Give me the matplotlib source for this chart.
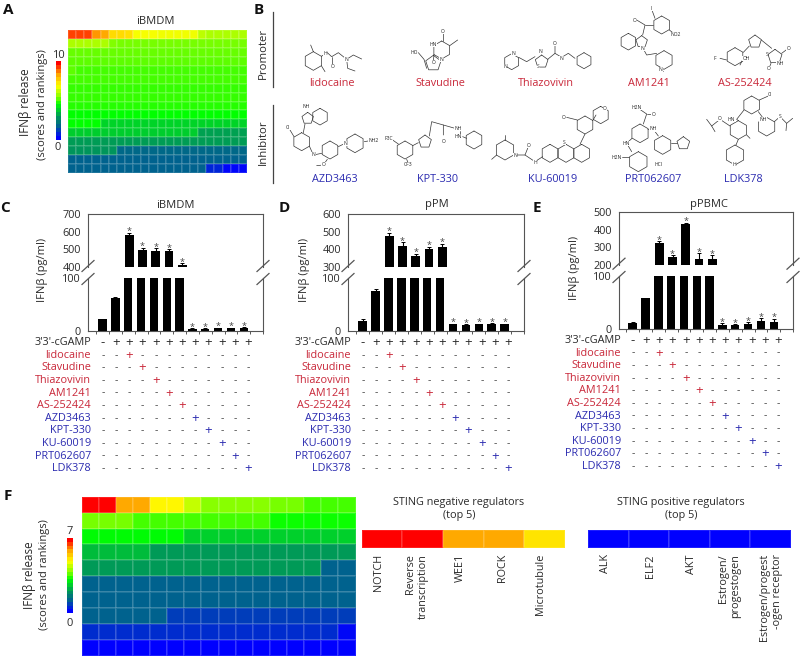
import numpy as np
import matplotlib
matplotlib.use('Agg')
from matplotlib import pyplot as plt
from matplotlib.colors import LinearSegmentedColormap, Normalize
from matplotlib.cm import ScalarMappable

plt.rcParams['font.family'] = ['Open Sans', 'DejaVu Sans']

W, H = 800, 660
RED = '#c9283a'
BLUE = '#2b2bb0'
DARK = '#2a2a2a'

# heatmap values, panel A (top row first)
heat_a = [
    [9.4, 9.4, 9.4, 8.6, 8.4, 7.6, 7.6, 7.5, 6.9, 6.9, 6.9, 6.8, 6.8, 6.8, 6.8, 6.8, 6.2, 6.0, 6.0, 6.0, 6.0, 6.0],
    [6.0, 6.0, 6.0, 6.0, 6.0, 5.5, 5.4, 5.4, 5.4, 5.4, 5.4, 5.4, 5.4, 5.4, 5.4, 5.4, 5.4, 5.4, 5.4, 5.4, 5.4, 5.4],
    [5.3, 5.3, 5.3, 5.3, 5.3, 5.3, 5.3, 5.3, 5.3, 5.3, 5.3, 5.3, 5.3, 5.3, 5.3, 5.3, 5.3, 5.3, 5.3, 5.3, 5.3, 5.3],
    [5.2, 5.2, 5.2, 5.2, 5.2, 5.2, 5.2, 5.2, 5.2, 5.2, 5.2, 5.2, 5.2, 5.2, 5.2, 5.2, 5.2, 5.2, 5.2, 5.2, 5.2, 5.2],
    [5.2, 5.0, 5.0, 5.0, 5.0, 5.0, 5.0, 5.0, 5.0, 5.0, 5.0, 5.0, 5.0, 5.0, 5.0, 5.0, 5.0, 5.0, 5.0, 5.0, 5.0, 5.0],
    [5.0, 5.0, 5.0, 5.0, 5.0, 5.0, 5.0, 5.0, 5.0, 5.0, 5.0, 5.0, 5.0, 5.0, 5.0, 5.0, 5.0, 5.0, 5.0, 5.0, 5.0, 5.0],
    [4.9, 4.9, 4.9, 4.9, 4.9, 4.9, 4.9, 4.9, 4.9, 4.9, 4.9, 4.9, 4.9, 4.9, 4.9, 4.9, 4.9, 4.9, 4.9, 4.9, 4.9, 4.9],
    [4.9, 4.9, 4.9, 4.9, 4.9, 4.9, 4.9, 4.9, 4.9, 4.9, 4.9, 4.9, 4.9, 4.9, 4.9, 4.9, 4.9, 4.9, 4.9, 4.9, 4.9, 4.9],
    [4.8, 4.8, 4.8, 4.8, 4.8, 4.8, 4.8, 4.8, 4.8, 4.8, 4.8, 4.8, 4.8, 4.8, 4.8, 4.8, 4.8, 4.8, 4.8, 4.8, 4.8, 4.8],
    [4.5, 4.5, 4.5, 4.5, 4.5, 4.5, 4.5, 4.5, 4.5, 4.5, 4.5, 4.5, 4.5, 4.5, 4.5, 4.5, 4.5, 4.5, 4.5, 4.5, 4.5, 4.5],
    [4.5, 4.5, 4.5, 4.5, 3.8, 3.8, 3.8, 3.8, 3.8, 3.8, 3.8, 3.8, 3.8, 3.8, 3.8, 3.8, 3.8, 3.8, 3.8, 3.8, 3.8, 3.8],
    [3.7, 3.7, 3.7, 3.7, 3.7, 3.7, 3.7, 3.7, 3.7, 3.7, 3.7, 3.7, 3.7, 3.7, 3.7, 3.7, 3.0, 3.0, 3.0, 3.0, 3.0, 3.0],
    [2.9, 2.9, 2.9, 2.9, 2.9, 2.9, 2.9, 2.9, 2.9, 2.9, 2.9, 2.9, 2.9, 2.9, 2.9, 2.9, 2.9, 2.9, 2.9, 2.9, 2.9, 2.9],
    [2.8, 2.8, 2.8, 2.8, 2.8, 2.8, 1.7, 1.7, 1.7, 1.7, 1.7, 1.7, 1.7, 1.7, 1.7, 1.7, 1.7, 1.7, 1.7, 1.7, 1.7, 1.7],
    [1.6, 1.6, 1.6, 1.6, 1.6, 1.6, 1.6, 1.6, 1.6, 1.6, 1.6, 1.6, 1.6, 1.6, 1.6, 1.6, 1.6, 1.6, 1.6, 1.6, 1.6, 1.6],
    [1.6, 1.6, 1.6, 1.6, 1.6, 1.6, 1.6, 1.6, 1.6, 1.6, 1.6, 1.6, 1.6, 1.6, 1.6, 1.6, 1.6, 0.6, 0.6, 0.1, 0.1, 0.1],
]

# heatmap values, panel F (top row first)
heat_f = [
    [7.0, 7.0, 5.9, 5.9, 5.0, 5.0, 4.4, 3.9, 3.9, 3.9, 3.9, 3.8, 3.8, 3.5, 3.5, 3.5],
    [3.8, 3.8, 3.8, 3.5, 3.5, 3.5, 3.5, 3.5, 3.5, 3.5, 3.5, 3.2, 3.2, 3.2, 3.2, 3.2],
    [3.1, 3.1, 3.1, 3.1, 3.1, 3.1, 2.6, 2.6, 2.6, 2.6, 2.6, 2.6, 2.6, 2.6, 2.6, 2.6],
    [2.4, 2.4, 2.4, 2.4, 2.0, 2.0, 2.0, 2.0, 2.0, 2.0, 2.0, 2.0, 2.0, 2.0, 2.0, 2.0],
    [2.0, 2.0, 2.0, 2.0, 2.0, 2.0, 2.0, 2.0, 2.0, 2.0, 2.0, 2.0, 2.0, 2.0, 1.1, 1.1],
    [1.1, 1.1, 1.1, 1.1, 1.1, 1.1, 1.1, 1.1, 1.1, 1.1, 1.1, 1.1, 1.1, 1.1, 1.1, 1.1],
    [1.1, 1.1, 1.1, 1.1, 1.1, 1.1, 1.1, 1.1, 1.1, 1.1, 1.1, 1.1, 1.1, 1.1, 1.1, 1.1],
    [1.1, 1.1, 1.1, 1.1, 1.1, 0.7, 0.7, 0.7, 0.7, 0.7, 0.7, 0.7, 0.7, 0.7, 0.7, 0.7],
    [0.5, 0.5, 0.5, 0.5, 0.5, 0.5, 0.5, 0.5, 0.5, 0.5, 0.5, 0.5, 0.5, 0.5, 0.5, 0.1],
    [0.0, 0.0, 0.0, 0.0, 0.0, 0.0, 0.0, 0.0, 0.0, 0.0, 0.0, 0.0, 0.0, 0.0, 0.0, 0.0],
]

promoters = ['lidocaine', 'Stavudine', 'Thiazovivin', 'AM1241', 'AS-252424']
inhibitors = ['AZD3463', 'KPT-330', 'KU-60019', 'PRT062607', 'LDK378']

# bars: iBMDM, pPM, pPBMC
ibmdm_vals = [22, 62, 580, 497, 493, 490, 412, 4, 4, 5, 5, 6]
ibmdm_errs = [1, 3, 15, 12, 12, 12, 8, 1, 1, 1, 1, 1]
ppm_vals = [18, 75, 478, 418, 360, 400, 415, 13, 12, 13, 14, 13]
ppm_errs = [4, 4, 15, 22, 15, 15, 18, 1, 1, 1, 1, 1]
ppbmc_vals = [11, 58, 325, 245, 435, 235, 235, 7, 7, 9, 15, 12]
ppbmc_errs = [1, 1, 10, 8, 5, 30, 18, 3, 1, 3, 5, 7]

neg_regulators = ['NOTCH', 'Reverse\ntranscription', 'WEE1', 'ROCK', 'Microtubule']
neg_scores = [7.0, 7.0, 5.9, 5.9, 5.2]
pos_regulators = ['ALK', 'ELF2', 'AKT', 'Estrogen/\nprogestogen', 'Estrogen/progest\n-ogen receptor']
pos_scores = [0, 0, 0, 0, 0]

cmap = LinearSegmentedColormap.from_list('score', [
    (0.00, (0, 0, 1)),
    (0.08, (0, 50 / 255, 200 / 255)),
    (0.16, (0, 100 / 255, 140 / 255)),
    (0.28, (0, 150 / 255, 90 / 255)),
    (0.36, (0, 200 / 255, 50 / 255)),
    (0.45, (0, 1, 0)),
    (0.55, (130 / 255, 1, 0)),
    (0.70, (1, 1, 0)),
    (0.85, (1, 165 / 255, 0)),
    (1.00, (1, 0, 0)),
])

fig = plt.figure(figsize=(W / 100, H / 100), dpi=100)


def px_axes(x0, y0, x1, y1):
    return fig.add_axes([x0 / W, 1 - y1 / H, (x1 - x0) / W, (y1 - y0) / H])


# overlay in pixel coordinates for labels, sign table and structures
ov = fig.add_axes([0, 0, 1, 1], zorder=10)
ov.set_xlim(0, W)
ov.set_ylim(H, 0)
ov.axis('off')


def label(x, y, s, size=7.8, color=DARK, **kw):
    kw.setdefault('ha', 'center')
    kw.setdefault('va', 'center')
    ov.text(x, y, s, fontsize=size, color=color, **kw)


def heatmap(data, box, vmax):
    ax = px_axes(*box)
    ax.pcolormesh(np.array(data), cmap=cmap, norm=Normalize(0, vmax),
                  edgecolors=(1, 1, 1, 0.12), linewidth=0.3)
    ax.invert_yaxis()
    ax.axis('off')
    return ax


def colorbar(box, vmax):
    cax = px_axes(*box)
    sm = ScalarMappable(norm=Normalize(0, vmax), cmap=cmap.resampled(20))
    cb = fig.colorbar(sm, cax=cax)
    cb.set_ticks([])
    cb.outline.set_visible(False)


def break_marks(x, y_top, y_bot):
    for xm in x:
        for ym in (y_top, y_bot):
            ov.plot([xm - 6, xm + 6], [ym + 5.5, ym - 5.5], color='#555555', lw=0.9)


def bar_panel(vals, errs, left, right, x0, step, y_top, y_brk1, y_brk2, y_zero,
              top_ticks, low_max=100):
    xs = np.arange(len(vals))
    xlim = ((left - x0) / step, (right - x0) / step)
    top = px_axes(left, y_top, right, y_brk1)
    low = px_axes(left, y_brk2, right, y_zero)
    for ax in (top, low):
        ax.bar(xs, vals, width=0.66, color='black')
        ax.errorbar(xs, vals, yerr=[np.zeros(len(vals)), errs], fmt='none',
                    ecolor='black', elinewidth=0.8, capsize=1.4, capthick=0.7)
        ax.set_xlim(*xlim)
        ax.tick_params(axis='y', length=0, labelsize=7.8, labelcolor=DARK, pad=5)
        for sp in ax.spines.values():
            sp.set_color('#555555')
            sp.set_linewidth(0.8)
    top.set_ylim(top_ticks[0], top_ticks[-1])
    top.set_yticks(top_ticks)
    top.spines['bottom'].set_visible(False)
    top.set_xticks([])
    low.set_ylim(0, low_max)
    low.set_yticks([0, low_max])
    low.spines['top'].set_visible(False)
    low.set_xticks(np.arange(-1, len(vals) + 1) + 0.5)
    low.tick_params(axis='x', length=2, labelbottom=False, color='#555555', width=0.7)
    # stars for the treated bars
    for i in xs[2:]:
        ax = top if vals[i] > low_max else low
        ax.annotate('*', xy=(i, vals[i] + errs[i]), xytext=(0, -2.5),
                    textcoords='offset points', ha='center', va='bottom',
                    fontsize=6.5, color='#444444', annotation_clip=False)
    break_marks([left, right], y_brk1 - 1, y_brk2 + 1)
    return top, low


def sign_table(x0, step, y0, dy, label_x):
    drugs = promoters + inhibitors
    label(label_x, y0, "3'3'-cGAMP", ha='right', size=7.8)
    for j in range(12):
        s = '+' if j > 0 else '-'
        label(x0 + j * step, y0, s, size=9.5, color=DARK)
    for r, name in enumerate(drugs):
        col = RED if r < 5 else BLUE
        y = y0 + (r + 1) * dy
        label(label_x, y, name, ha='right', color=col, size=7.8)
        for j in range(12):
            if j == r + 2:
                label(x0 + j * step, y, '+', size=9.5, color=col)
            else:
                label(x0 + j * step, y, '-', size=7.5, color='#444444')


# A
heatmap(heat_a, (68, 30, 247, 173), 10)
colorbar((55.5, 61, 61, 140), 10)
label(58, 55, '10', size=8)
label(58, 148, '0', size=8)
label(155, 22, 'iBMDM', size=8)
label(25, 102, 'IFNβ release', size=8.4, rotation=90)
label(42, 105, '(scores and rankings)', size=8, rotation=90)

# C, D, E
bar_panel(ibmdm_vals, ibmdm_errs, 88, 263, 103, 13.2, 214, 267, 278, 331, [400, 500, 600, 700])
sign_table(103, 13.2, 342.7, 12.6, 91)
label(175, 205, 'iBMDM', size=8)
label(43, 270, 'IFNβ (pg/ml)', size=8, rotation=90)

bar_panel(ppm_vals, ppm_errs, 348, 524, 363, 13.2, 214, 267, 278, 331, [300, 400, 500, 600])
sign_table(363, 13.2, 342.7, 12.6, 351)
label(437, 205, 'pPM', size=8)
label(304, 270, 'IFNβ (pg/ml)', size=8, rotation=90)

bar_panel(ppbmc_vals, ppbmc_errs, 619, 793, 633, 13.2, 212.3, 264.7, 276, 328.7, [200, 300, 400, 500])
sign_table(633, 13.2, 340.5, 12.6, 621)
label(709, 205, 'pPBMC', size=8)
label(574, 268, 'IFNβ (pg/ml)', size=8, rotation=90)

# F
heatmap(heat_f, (81.7, 496.7, 355.5, 656), 7)
colorbar((67, 538, 73, 613), 7)
label(70, 531, '7', size=8)
label(70, 623, '0', size=8)
label(29, 575, 'IFNβ release', size=8.4, rotation=90)
label(45, 575, '(scores and rankings)', size=8, rotation=90)

heatmap([neg_scores], (361.7, 530, 565, 548), 7)
heatmap([pos_scores], (588, 530, 791, 548), 7)
label(459, 509, 'STING negative regulators\n(top 5)', size=7.8, linespacing=1.15)
label(681, 509, 'STING positive regulators\n(top 5)', size=7.8, linespacing=1.15)
reg_x = [379, 417, 460, 502, 541, 605, 650, 692, 730, 771]
for x, name in zip(reg_x, neg_regulators + pos_regulators):
    label(x, 554, name, size=7.8, rotation=90, va='top', ma='right', linespacing=1.15)

# B: panel frame and compound names
ov.plot([272.7, 272.7], [12, 87], color='#444444', lw=0.9)
ov.plot([272.7, 272.7], [105, 183], color='#444444', lw=0.9)
label(263, 53, 'Promoter', size=8.2, rotation=90)
label(263, 142, 'Inhibitor', size=8.2, rotation=90)
for zx, name in zip([185, 512, 828, 1138, 1423], promoters):
    label(270 + zx / 3, 83, name, color=RED, size=7.8)
for zx, name in zip([193, 503, 848, 1150, 1420], inhibitors):
    label(270 + zx / 3, 179, name, color=BLUE, size=7.8)


# skeletal structures, sketched in units of the 3x crop
def Z(x, y):
    return 270 + x / 3, y / 3


def ring(cx, cy, r, n=6, rot=90):
    a = np.radians(rot + np.arange(n + 1) * 360 / n)
    px, py = Z(cx + r * np.cos(a), cy - r * np.sin(a))
    ov.plot(px, py, color='#333333', lw=0.5, solid_capstyle='round')


def bonds(*pts):
    px, py = zip(*[Z(*p) for p in pts])
    ov.plot(px, py, color='#333333', lw=0.5, solid_capstyle='round')


def atom(x, y, s):
    px, py = Z(x, y)
    ov.text(px, py, s, fontsize=3.6, color='#222222', ha='center', va='center',
            bbox=dict(fc='white', ec='none', pad=0.2))


# lidocaine
ring(130, 183, 28)
bonds((130, 155), (122, 135))
bonds((154, 197), (165, 215))
bonds((154, 169), (172, 158), (185, 170), (205, 158), (230, 178), (250, 165), (275, 177))
bonds((185, 170), (185, 198))
bonds((230, 178), (233, 205), (255, 213))
atom(165, 160, 'H'); atom(187, 200, 'O'); atom(230, 178, 'N')
# Stavudine
ring(515, 150, 27)
ring(490, 190, 24, n=5)
bonds((445, 158), (462, 178), (470, 205))
bonds((518, 123), (518, 98))
bonds((539, 137), (563, 120))
bonds((492, 163), (490, 185))
atom(432, 157, 'HO'); atom(518, 95, 'O'); atom(490, 133, 'HN'); atom(491, 187, 'O'); atom(515, 178, 'N')
# Thiazovivin
ring(725, 185, 24)
bonds((746, 172), (770, 185), (795, 170))
ring(815, 185, 20, n=5)
bonds((833, 178), (855, 160), (855, 135))
bonds((855, 160), (875, 172), (895, 160), (915, 175))
ring(942, 182, 24)
atom(730, 160, 'N'); atom(705, 200, 'N'); atom(855, 130, 'O'); atom(875, 175, 'N'); atom(812, 155, 'N'); atom(805, 200, 'S')
# AM1241
ring(1075, 125, 25)
ring(1115, 125, 18, n=5)
bonds((1118, 105), (1125, 75), (1100, 60))
bonds((1125, 75), (1150, 75))
ring(1175, 75, 27)
bonds((1155, 55), (1145, 28))
bonds((1198, 90), (1215, 103))
bonds((1118, 143), (1130, 165), (1160, 160))
ring(1182, 180, 28)
bonds((1170, 205), (1180, 215))
atom(1145, 25, 'I'); atom(1218, 103, 'NO2'); atom(1095, 60, 'O'); atom(1118, 145, 'N'); atom(1172, 208, 'N')
# AS-252424
ring(1395, 170, 27)
ring(1455, 125, 20, n=5)
bonds((1420, 157), (1438, 138))
bonds((1474, 120), (1505, 145))
ring(1515, 170, 22, n=5)
bonds((1535, 160), (1555, 145))
bonds((1503, 190), (1497, 205))
bonds((1350, 175), (1370, 180))
bonds((1410, 195), (1420, 175))
atom(1335, 175, 'F'); atom(1428, 175, 'OH'); atom(1555, 145, 'O'); atom(1497, 205, 'O'); atom(1490, 165, 'S'); atom(1530, 190, 'NH')
# AZD3463
ring(150, 350, 25)
ring(113, 355, 18, n=5)
ring(95, 425, 27)
bonds((105, 372), (100, 398))
bonds((72, 410), (60, 390))
bonds((118, 438), (130, 465), (155, 460))
ring(180, 450, 27)
bonds((172, 478), (160, 495), (140, 497))
bonds((205, 440), (225, 430))
ring(255, 430, 28)
bonds((283, 425), (300, 422))
atom(110, 318, 'NH'); atom(55, 382, 'Cl'); atom(130, 465, 'N'); atom(310, 422, 'NH2'); atom(160, 495, 'O'); atom(226, 430, 'N')
# KPT-330
ring(405, 450, 27)
ring(465, 425, 20, n=5)
bonds((428, 437), (445, 428))
bonds((385, 432), (365, 418))
bonds((410, 478), (415, 490))
bonds((478, 408), (485, 365), (520, 375), (520, 405))
bonds((520, 375), (555, 385))
bonds((570, 392), (570, 405))
bonds((578, 410), (590, 415))
ring(612, 420, 27)
atom(355, 415, 'F3C'); atom(415, 493, 'CF3'); atom(522, 425, 'O'); atom(565, 385, 'NH'); atom(565, 410, 'HN')
# KU-60019
ring(705, 450, 30)
bonds((705, 420), (705, 405))
bonds((680, 465), (665, 478))
bonds((732, 465), (765, 465), (775, 440))
bonds((765, 465), (795, 485), (818, 470))
ring(840, 460, 27)
ring(888, 460, 27)
ring(935, 460, 27)
bonds((930, 433), (945, 402))
ring(945, 375, 27)
bonds((922, 360), (890, 352))
bonds((968, 362), (978, 345))
ring(992, 345, 26)
atom(880, 352, 'O'); atom(775, 437, 'O'); atom(795, 487, 'H'); atom(735, 467, 'N'); atom(1005, 325, 'O'); atom(882, 428, 'S')
# PRT062607
ring(1110, 400, 28)
bonds((1120, 372), (1130, 342), (1105, 325))
bonds((1130, 342), (1148, 342))
bonds((1134, 388), (1150, 388), (1165, 408))
ring(1178, 435, 28)
bonds((1203, 430), (1222, 430))
ring(1240, 430, 20, n=5)
bonds((1086, 415), (1070, 430), (1085, 455))
ring(1105, 485, 30)
bonds((1078, 472), (1055, 472))
atom(1100, 322, 'H2N'); atom(1150, 342, 'O'); atom(1150, 387, 'NH'); atom(1068, 430, 'HN'); atom(1040, 472, 'H2N'); atom(1165, 493, 'HCl')
# LDK378
ring(1445, 315, 27)
bonds((1468, 300), (1495, 288))
bonds((1422, 330), (1400, 358), (1405, 362))
ring(1405, 390, 28)
bonds((1380, 378), (1350, 358), (1325, 378), (1310, 358))
bonds((1325, 378), (1335, 395))
bonds((1430, 405), (1440, 415))
bonds((1405, 418), (1398, 435))
ring(1395, 465, 30)
bonds((1465, 335), (1482, 358), (1490, 352))
ring(1490, 380, 28)
bonds((1513, 365), (1530, 350), (1550, 370), (1568, 355))
bonds((1550, 370), (1548, 392))
atom(1500, 285, 'Cl'); atom(1385, 358, 'HN'); atom(1348, 355, 'O'); atom(1480, 358, 'NH'); atom(1530, 350, 'S'); atom(1393, 494, 'H')

# panel letters
for x, y, s in [(8, 10, 'A'), (259, 10, 'B'), (5, 208, 'C'), (284, 208, 'D'), (537, 208, 'E'), (8, 496, 'F')]:
    label(x, y, s, size=11, color='#111111', fontweight='bold')

fig.savefig('out.png', dpi=100)
